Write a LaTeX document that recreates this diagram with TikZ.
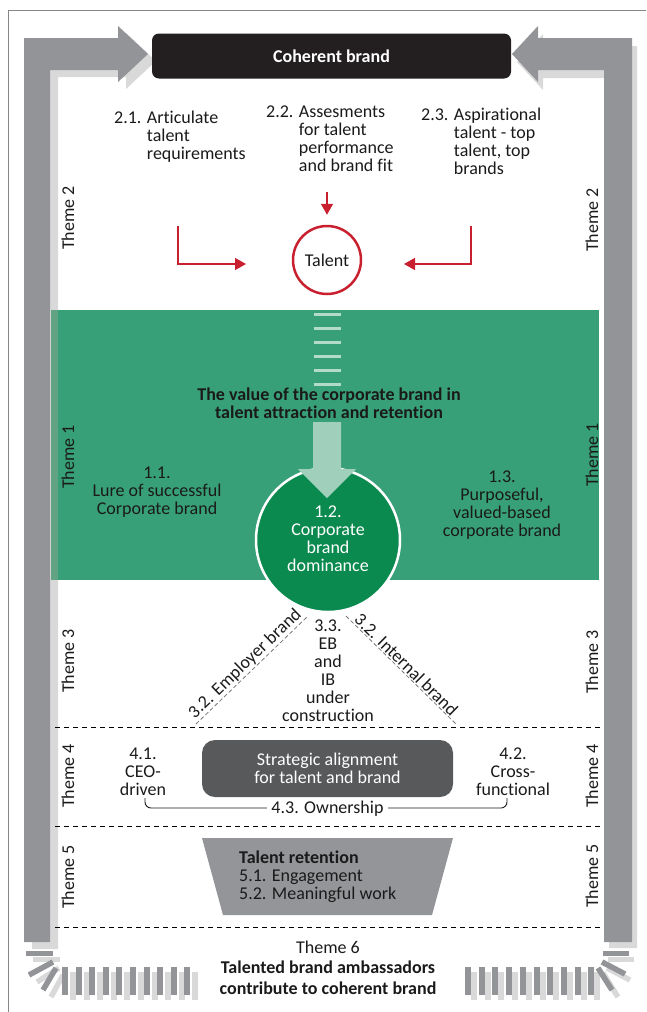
\documentclass[tikz,border=0pt]{standalone}
\usepackage{fontspec}
\setmainfont{Carlito}[Ligatures=CommonOff]
\usetikzlibrary{arrows.meta}
\definecolor{gdark}{RGB}{147,148,152}
\definecolor{glight}{RGB}{217,217,217}
\definecolor{greenband}{RGB}{56,160,121}
\definecolor{stripmix}{RGB}{96,164,132}
\definecolor{greencirc}{RGB}{11,138,79}
\definecolor{arrowg}{RGB}{160,207,188}
\definecolor{stripec}{RGB}{178,219,202}
\definecolor{boxblack}{RGB}{35,31,32}
\definecolor{boxgray}{RGB}{88,89,91}
\definecolor{trapc}{RGB}{147,149,152}
\definecolor{redc}{RGB}{200,32,46}
\definecolor{textc}{RGB}{26,26,26}
\definecolor{framec}{RGB}{135,135,135}
\definecolor{diagc}{RGB}{120,120,120}
\begin{document}
\begin{tikzpicture}[x=1pt,y=-1pt,
  txt/.style={inner sep=0pt,align=center,font=\fontsize{18}{18}\selectfont,text=textc},
  txtl/.style={txt,align=left},
  bold/.style={txt,font=\fontsize{18}{18}\selectfont\bfseries},
  theme/.style={txt,rotate=90},
  sepline/.style={draw=black,line width=0.9pt,dash pattern=on 5pt off 4pt},
  diag/.style={draw=diagc,line width=0.8pt,dash pattern=on 4pt off 2.5pt},
  redline/.style={draw=redc,line width=1.5pt,-{Triangle[length=11pt,width=12pt]}},
  bar/.style={line width=5.5pt}]
\useasboundingbox (0,0) rectangle (646,1012);
% frame
\draw[framec,line width=1pt] (8.5,1012) -- (8.5,10.5) -- (646,10.5);
% shadows of the big arrows
\fill[glight] (32,949) -- (32,45) -- (126,45) -- (126,33) -- (156,61) -- (126,89) -- (126,77) -- (58,77) -- (58,949) -- cycle;
\fill[glight] (609,948) -- (609,78) -- (543,78) -- (543,90) -- (517,62) -- (543,34) -- (543,46) -- (637,46) -- (637,948) -- cycle;
% big arrows
\fill[gdark] (24,942) -- (24,38) -- (118,38) -- (118,26) -- (148,54) -- (118,82) -- (118,70) -- (50,70) -- (50,942) -- cycle;
\fill[gdark] (604,942) -- (604,70) -- (538,70) -- (538,82) -- (512,54) -- (538,26) -- (538,38) -- (632,38) -- (632,942) -- cycle;
% bottom fans (shadows)
\fill[glight] (33,957) rectangle (60,962);
\draw[glight,bar] (37,982) -- (59,968);
\draw[glight,bar] (51,997) -- (63,975);
\fill[glight] (608,957) rectangle (634,962);
\draw[glight,bar] (607,968) -- (630,980);
\draw[glight,bar] (603,973) -- (618,997);
\foreach \k in {0,...,9}{
  \fill[glight] ({70+13.6*\k},972) rectangle ({76+13.6*\k},1000);
  \fill[glight] ({471+13.7*\k},972) rectangle ({477+13.7*\k},1000);
}
% bottom fans (dark)
\fill[gdark] (26,951) rectangle (53,956);
\draw[gdark,bar] (29,975) -- (53,962);
\draw[gdark,bar] (43,990) -- (56,968);
\fill[gdark] (603,951) rectangle (629,956);
\draw[gdark,bar] (602,962) -- (625,974);
\draw[gdark,bar] (598,968) -- (612,990);
\foreach \k in {0,...,9}{
  \fill[gdark] ({62+13.6*\k},967) rectangle ({68+13.6*\k},995);
  \fill[gdark] ({465+13.7*\k},967) rectangle ({471+13.7*\k},995);
}
% top box
\node[bold,text=white,fill=boxblack,rounded corners=7pt,minimum width=359pt,minimum height=45pt] (coherent) at (331.5,56) {Coherent brand};
% theme 2 texts
\node[txtl,anchor=west] (t21) at (114,137) {2.1. Articulate\\\phantom{2.1. }talent\\\phantom{2.1. }requirements};
\node[txtl,anchor=west] (t22) at (266,139) {2.2. Assesments\\\phantom{2.2. }for talent\\\phantom{2.2. }performance\\\phantom{2.2. }and brand fit};
\node[txtl,anchor=west] (t23) at (421,141.5) {2.3. Aspirational\\\phantom{2.3. }talent - top\\\phantom{2.3. }talent, top\\\phantom{2.3. }brands};
\node[txt,circle,draw=redc,line width=2.5pt,minimum size=68pt] (talent) at (327,260) {Talent};
\coordinate (a21s) at (178,226); \coordinate (a21e) at (246,264);
\coordinate (a23s) at (471,226); \coordinate (a23e) at (404,264);
\coordinate (a22s) at (327,192);
\draw[redline] (a21s) |- (a21e);
\draw[redline] (a23s) |- (a23e);
\draw[redline,shorten >=10pt] (a22s) -- (talent.north);
% theme 1 band
\fill[greenband] (51,310) rectangle (599,580);
\fill[stripmix] (51,310) rectangle (58,580);
\foreach \k in {0,...,5}{
  \fill[stripec] (314,{312.8+14*\k}) rectangle (341,{315.8+14*\k});
}
\node[bold] (title) at (329,403) {The value of the corporate brand in\\talent attraction and retention};
\node[txt,circle,fill=greencirc,draw=white,line width=2.5pt,minimum size=144pt] (corp) at (328,540) {};
\fill[arrowg] (313,422) -- (341,422) -- (341,469) -- (356,469) -- (327,498) -- (298,469) -- (313,469) -- cycle;
\node[txt,text=white] (corptext) at (328,539) {1.2.\\Corporate\\brand\\dominance};
\node[txt] (t11) at (157,492.5) {1.1.\\Lure of successful\\Corporate brand};
\node[txt] (t13) at (502,505) {1.3.\\Purposeful,\\valued-based\\corporate brand};
% theme 3
\coordinate (eb1) at (196,724); \coordinate (eb2) at (307,617);
\coordinate (ib1) at (346,616); \coordinate (ib2) at (456,724);
\draw[diag] (eb1) -- (eb2) node[txt,midway,sloped,above=1pt] (ebt) {3.2. Employer brand};
\draw[diag] (ib1) -- (ib2) node[txt,midway,sloped,above=1pt] (ibt) {3.2. Internal brand};
\node[txt] (t33) at (328,670.5) {3.3.\\EB\\and\\IB\\under\\construction};
% separators
\coordinate (s1a) at (55,727); \coordinate (s1b) at (603,727);
\coordinate (s2a) at (55,826); \coordinate (s2b) at (603,826);
\coordinate (s3a) at (55,927); \coordinate (s3b) at (603,927);
\draw[sepline] (s1a) -- (s1b);
\draw[sepline] (s2a) -- (s2b);
\draw[sepline] (s3a) -- (s3b);
% theme 4
\node[txt,text=white,fill=boxgray,rounded corners=13pt,minimum width=251pt,minimum height=57pt] (strat) at (327.5,768.5) {Strategic alignment\\for talent and brand};
\node[txt] (t41) at (143,771.5) {4.1.\\CEO-\\driven};
\node[txt] (t42) at (513,771.5) {4.2.\\Cross-\\functional};
\coordinate (o1) at (145,798); \coordinate (o2) at (507,798);
\draw[line width=0.9pt,rounded corners=6pt,textc] (o1) -- ++(0,10) -| (o2);
\node[txt,fill=white,inner xsep=4pt] (own) at (327.5,809) {4.3. Ownership};
% theme 5
\fill[trapc] (202,838) -- (453,838) -- (432,915) -- (223,915) -- cycle;
\node[txtl,anchor=west] (t5) at (239,877) {\textbf{Talent retention}\\5.1. Engagement\\5.2. Meaningful work};
% theme 6
\node[txt,font=\fontsize{18}{20.5}\selectfont] (t6) at (328,967.5) {Theme 6\\\textbf{Talented brand ambassadors}\\\textbf{contribute to coherent brand}};
% theme labels
\node[theme] (l2) at (68,218) {Theme 2};
\node[theme] (l1) at (68,457) {Theme 1};
\node[theme] (l3) at (68,661) {Theme 3};
\node[theme] (l4) at (68,776) {Theme 4};
\node[theme] (l5) at (68,877) {Theme 5};
\node[theme] (r2) at (592,220) {Theme 2};
\node[theme] (r1) at (592,455) {Theme 1};
\node[theme] (r3) at (592,662) {Theme 3};
\node[theme] (r4) at (592,776) {Theme 4};
\node[theme] (r5) at (592,876) {Theme 5};
\end{tikzpicture}
\end{document}
